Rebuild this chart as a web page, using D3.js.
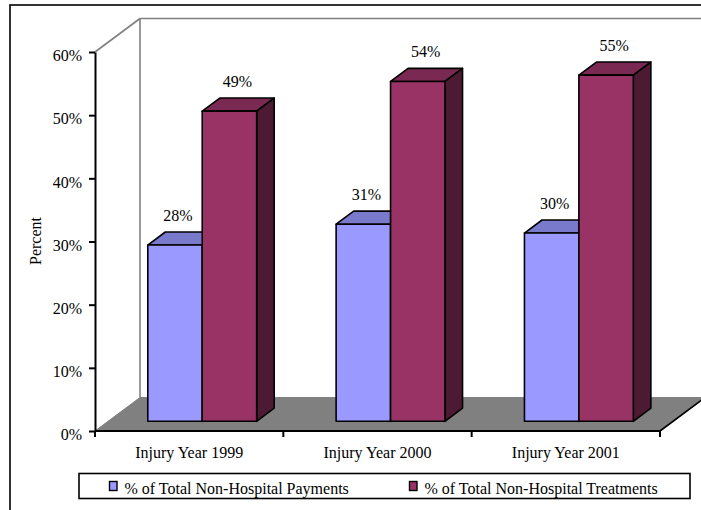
<!DOCTYPE html>
<html>
<head>
<meta charset="utf-8">
<script src="https://cdn.jsdelivr.net/npm/d3@7"></script>
<style>
  html, body { margin: 0; padding: 0; background: #fff; }
  svg { display: block; }
  svg text { font-family: "Liberation Serif", "Times New Roman", serif !important; fill: #000; }
</style>
</head>
<body>
<svg id="chart" width="701" height="510" font-family="Liberation Serif, serif"></svg>
<script>
// ---- data ----
const categories = ["Injury Year 1999", "Injury Year 2000", "Injury Year 2001"];
const seriesNames = ["% of Total Non-Hospital Payments", "% of Total Non-Hospital Treatments"];
const payments = [0.279, 0.312, 0.298];
const treatments = [0.491, 0.538, 0.548];
const yTicks = [0, 0.1, 0.2, 0.3, 0.4, 0.5, 0.6];
const yTitle = "Percent";

// ---- styles ----
const seriesColors = [
  { front: "#9999FF", top: "#7A7ACC", side: "#4D4D80", labelShift: 3 },
  { front: "#993366", top: "#7A2952", side: "#4D1A33", labelShift: 8 }
];
const fontSize = 16;
const FONT = "Liberation Serif, serif";
const DX = 45, DY = -33.5;      // full depth offset of the 3D box
const D0 = 0.29, D1 = 0.68;     // bar front / back depth fractions

const svg = d3.select("#chart");

const x = d3.scaleBand().domain(categories).range([95, 660]).paddingInner(0).paddingOuter(0);
const xs = d3.scaleBand().domain(seriesNames).range([0, x.bandwidth()]).paddingInner(0).paddingOuter(0.73);
const y = d3.scaleLinear().domain([0, 0.6]).range([431, 52]);

const x0 = x.range()[0], x1 = x.range()[1];
const y0 = y(0), yTop = y(0.6);
const pct = d3.format(".0%");

// outer chart border
svg.append("rect").attr("x", 10).attr("y", 5).attr("width", 720).attr("height", 540)
  .attr("fill", "none").attr("stroke", "#000").attr("stroke-width", 1.6);

// floor
svg.append("path")
  .attr("d", `M${x0},${y0} L${x1},${y0} L${x1 + DX},${y0 + DY} L${x0 + DX},${y0 + DY} Z`)
  .attr("fill", "#808080").attr("stroke", "#808080").attr("stroke-width", 1);
svg.append("line").attr("x1", x1).attr("y1", y0).attr("x2", x1 + DX).attr("y2", y0 + DY)
  .attr("stroke", "#000").attr("stroke-width", 1.6);

// back walls (gray edges)
const wall = svg.append("g").attr("stroke", "#808080").attr("stroke-width", 1.6).attr("fill", "none");
wall.append("line").attr("x1", x0).attr("y1", yTop).attr("x2", x0 + DX).attr("y2", yTop + DY);
wall.append("line").attr("x1", x0 + DX).attr("y1", yTop + DY).attr("x2", x0 + DX).attr("y2", y0 + DY);
wall.append("line").attr("x1", x0 + DX).attr("y1", yTop + DY).attr("x2", 740).attr("y2", yTop + DY);

// bars
const ox0 = DX * D0, oy0 = DY * D0;
const bdx = DX * (D1 - D0), bdy = DY * (D1 - D0);
const seriesValues = [payments, treatments];
const bars = [];
categories.forEach((c, i) => {
  seriesNames.forEach((s, j) => {
    bars.push({ cat: c, ser: s, j: j, v: seriesValues[j][i] });
  });
});

const gBars = svg.append("g").attr("stroke", "#000").attr("stroke-width", 1.6).attr("stroke-linejoin", "round");
bars.forEach(b => {
  const L = x(b.cat) + xs(b.ser) + ox0;
  const R = L + xs.bandwidth();
  const B = y(0) + oy0;
  const T = y(b.v) + oy0;
  const col = seriesColors[b.j];
  const g = gBars.append("g");
  g.append("path")
    .attr("d", `M${L},${T} L${L + bdx},${T + bdy} L${R + bdx},${T + bdy} L${R},${T} Z`)
    .attr("fill", col.top);
  g.append("path")
    .attr("d", `M${R},${T} L${R + bdx},${T + bdy} L${R + bdx},${B + bdy} L${R},${B} Z`)
    .attr("fill", col.side);
  g.append("rect").attr("x", L).attr("y", T).attr("width", R - L).attr("height", B - T)
    .attr("fill", col.front);
  b.labelX = (L + R) / 2 + col.labelShift;
  b.labelY = T - 24;
});

// data labels
svg.append("g").selectAll("text").data(bars).join("text")
  .attr("x", d => d.labelX).attr("y", d => d.labelY)
  .attr("text-anchor", "middle").attr("font-family", FONT).attr("font-size", fontSize)
  .text(d => pct(d.v));

// y axis
const yAxis = svg.append("g").attr("transform", `translate(${x0},0)`)
  .call(d3.axisLeft(y).tickValues(yTicks).tickFormat(pct).tickSize(6).tickSizeOuter(0).tickPadding(7));
yAxis.attr("font-family", FONT).attr("font-size", fontSize);
yAxis.select(".domain").attr("stroke", "#000").attr("stroke-width", 2);
yAxis.selectAll(".tick line").attr("stroke", "#000").attr("stroke-width", 2);
yAxis.selectAll(".tick text").attr("font-family", FONT).attr("font-size", fontSize)
  .attr("fill", "#000").attr("dy", "0.55em");

// x axis line, boundary ticks, labels
svg.append("line").attr("x1", x0).attr("y1", y0).attr("x2", x1).attr("y2", y0)
  .attr("stroke", "#000").attr("stroke-width", 2);
const bounds = categories.map(c => x(c)).concat([x1]);
svg.append("g").selectAll("line").data(bounds).join("line")
  .attr("x1", d => d).attr("x2", d => d).attr("y1", y0).attr("y2", y0 + 6)
  .attr("stroke", "#000").attr("stroke-width", 2);
svg.append("g").selectAll("text").data(categories).join("text")
  .attr("x", d => x(d) + x.bandwidth() / 2).attr("y", 458)
  .attr("text-anchor", "middle").attr("font-family", FONT).attr("font-size", fontSize)
  .text(d => d);

// y title
svg.append("text").attr("transform", "translate(41,241) rotate(-90)")
  .attr("text-anchor", "middle").attr("font-family", FONT).attr("font-size", fontSize).text(yTitle);

// legend
const lg = svg.append("g");
lg.append("rect").attr("x", 79).attr("y", 473.5).attr("width", 611).attr("height", 25)
  .attr("fill", "#fff").attr("stroke", "#000").attr("stroke-width", 1.6);
const legendX = [109.5, 409.5];
seriesNames.forEach((s, j) => {
  lg.append("rect").attr("x", legendX[j]).attr("y", 481.5).attr("width", 7.5).attr("height", 9)
    .attr("fill", seriesColors[j].front).attr("stroke", "#000").attr("stroke-width", 1.4);
  lg.append("text").attr("x", legendX[j] + 15).attr("y", 493.5)
    .attr("font-family", FONT).attr("font-size", fontSize).text(s);
});
</script>
</body>
</html>
